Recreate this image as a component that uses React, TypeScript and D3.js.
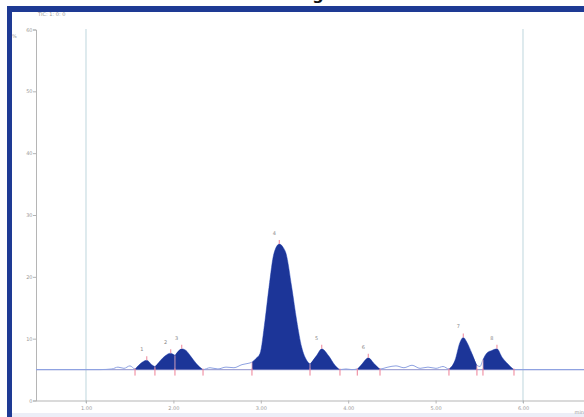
import React, { useEffect, useRef } from "react";
import * as d3 from "d3";

// signal trace (minutes, %)
const times = [
  0.428, 1.16, 1.297, 1.366, 1.435, 1.503, 1.561, 1.618, 1.695, 1.752, 1.789,
  1.847, 1.904, 1.969, 2.018, 2.095, 2.144, 2.19, 2.267, 2.339, 2.419, 2.51,
  2.602, 2.693, 2.785, 2.854, 2.899, 2.945, 2.991, 3.048, 3.094, 3.151, 3.212,
  3.254, 3.288, 3.354, 3.411, 3.468, 3.525, 3.563, 3.64, 3.697, 3.772, 3.849,
  3.906, 3.975, 4.043, 4.104, 4.158, 4.23, 4.295, 4.364, 4.455, 4.547, 4.638,
  4.73, 4.822, 4.913, 5.005, 5.085, 5.153, 5.222, 5.279, 5.317, 5.359, 5.416,
  5.473, 5.508, 5.542, 5.588, 5.645, 5.702, 5.76, 5.828, 5.897, 6.069, 6.698,
];
const signal = [
  5.0, 5.0, 5.1, 5.4, 5.2, 5.6, 5.1, 5.9, 6.5, 5.8, 5.5,
  6.4, 7.2, 7.65, 7.3, 8.35, 8.1, 7.3, 5.9, 5.0, 5.3, 5.1,
  5.4, 5.3, 5.8, 6.0, 6.2, 6.8, 7.6, 12.9, 18.3, 23.8, 25.3,
  24.8, 23.8, 18.3, 12.9, 8.6, 6.5, 5.9, 7.3, 8.35, 7.3, 5.7,
  5.0, 5.1, 5.0, 5.1, 5.9, 6.9, 6.0, 5.1, 5.4, 5.6, 5.3,
  5.7, 5.2, 5.4, 5.2, 5.5, 5.1, 6.5, 9.4, 10.2, 9.4, 7.6,
  5.7, 5.5, 6.6, 7.7, 8.1, 8.35, 7.0, 5.9, 5.0, 5.0, 5.0,
];
const baselineValue = 5;

// integrated peaks
const peakStarts = [1.561, 1.789, 2.018, 2.899, 3.563, 4.104, 5.153, 5.542];
const peakEnds = [1.789, 2.018, 2.339, 3.563, 3.906, 4.364, 5.473, 5.897];
const peakApex = [1.695, 1.969, 2.095, 3.212, 3.697, 4.23, 5.317, 5.702];
const peakLabels = ["1", "2", "3", "4", "5", "6", "7", "8"];

const xTicks = [1, 2, 3, 4, 5, 6];
const xTickLabels = ["1.00", "2.00", "3.00", "4.00", "5.00", "6.00"];
const yTicks = [0, 10, 20, 30, 40, 50, 60];
const markerTimes = [1, 6];

const W = 584;
const H = 417;

const Chromatogram = () => {
  const svgRef = useRef(null);

  useEffect(() => {
    const svg = d3.select(svgRef.current);
    svg.selectAll("*").remove();

    const x = d3.scaleLinear().domain([0.428, 6.698]).range([36, 584]);
    const y = d3.scaleLinear().domain([0, 60]).range([400.5, 29.5]);

    const pts = times.map((t, i) => ({ t, v: signal[i] }));

    // frame
    svg.append("rect").attr("width", W).attr("height", H).attr("fill", "#fff");
    svg.append("rect").attr("x", 7).attr("y", 6).attr("width", W - 7).attr("height", 6).attr("fill", "#1e3a94");
    svg.append("rect").attr("x", 7).attr("y", 6).attr("width", 5).attr("height", H - 6).attr("fill", "#1e3a94");
    svg.append("rect").attr("x", 12).attr("y", 413).attr("width", W - 12).attr("height", 4).attr("fill", "#eceef7");

    // cut off title
    svg.append("text")
      .attr("x", 224).attr("y", 0)
      .attr("font-family", "DejaVu Sans").attr("font-weight", "bold")
      .attr("font-size", 16).attr("fill", "#111")
      .text("Chromatogram");

    svg.append("text").attr("x", 38).attr("y", 16)
      .attr("font-family", "DejaVu Sans").attr("font-size", 5).attr("fill", "#999")
      .text("TIC: 1: 0: 0");
    svg.append("text").attr("x", 12).attr("y", 38)
      .attr("font-family", "DejaVu Sans").attr("font-size", 5).attr("fill", "#999")
      .text("%");

    // time markers
    svg.selectAll(".marker")
      .data(markerTimes)
      .enter()
      .append("line")
      .attr("x1", d => x(d)).attr("x2", d => x(d))
      .attr("y1", 29).attr("y2", 403)
      .attr("stroke", "#c9dde3").attr("stroke-width", 1.2);

    // axes
    const yAxis = svg.append("g")
      .attr("transform", "translate(36,0)")
      .call(d3.axisLeft(y).tickValues(yTicks).tickSize(3).tickFormat(d3.format("d")));
    const xAxis = svg.append("g")
      .attr("transform", `translate(0,${y(0)})`)
      .call(d3.axisBottom(x).tickValues(xTicks).tickSize(3)
        .tickFormat((d, i) => xTickLabels[i]));
    [yAxis, xAxis].forEach(g => {
      g.select(".domain").attr("stroke", "#b5b5b5");
      g.selectAll(".tick line").attr("stroke", "#b5b5b5");
      g.selectAll(".tick text")
        .attr("fill", "#9a9a9a").attr("font-size", 5).attr("font-family", "DejaVu Sans");
    });
    xAxis.select(".domain").attr("d", `M36,0.5H584`);
    xAxis.selectAll(".tick text").attr("y", 6);
    yAxis.selectAll(".tick text").attr("x", -3.5);

    svg.append("text").attr("x", 584).attr("y", 414).attr("text-anchor", "end")
      .attr("font-family", "DejaVu Sans").attr("font-size", 5).attr("fill", "#999")
      .text("min");

    // baseline
    svg.append("line")
      .attr("x1", 36).attr("x2", 584)
      .attr("y1", y(baselineValue)).attr("y2", y(baselineValue))
      .attr("stroke", "#a4a6d6").attr("stroke-width", 1.2);

    // trace
    const line = d3.line().x(d => x(d.t)).y(d => y(d.v)).curve(d3.curveMonotoneX);
    svg.append("path")
      .attr("d", line(pts))
      .attr("fill", "none")
      .attr("stroke", "#8ea2e2")
      .attr("stroke-width", 1);

    // peak fills
    const area = d3.area()
      .x(d => x(d.t))
      .y0(y(baselineValue))
      .y1(d => y(d.v))
      .curve(d3.curveMonotoneX);
    peakStarts.forEach((s, i) => {
      const seg = pts.filter(p => p.t >= s && p.t <= peakEnds[i]);
      svg.append("path").attr("d", area(seg)).attr("fill", "#1c3598");
    });

    // drop lines and integration markers
    const bounds = Array.from(new Set(peakStarts.concat(peakEnds)));
    bounds.forEach(b => {
      const p = pts.find(q => q.t === b);
      svg.append("line")
        .attr("x1", x(b)).attr("x2", x(b))
        .attr("y1", y(baselineValue)).attr("y2", y(p ? p.v : baselineValue))
        .attr("stroke", "#f3b5c4").attr("stroke-width", 0.8);
      svg.append("line")
        .attr("x1", x(b)).attr("x2", x(b))
        .attr("y1", y(baselineValue) - 1).attr("y2", y(baselineValue) + 6)
        .attr("stroke", "#ee7f95").attr("stroke-width", 1);
    });

    // apex ticks and labels
    peakApex.forEach((a, i) => {
      const p = pts.find(q => q.t === a);
      const py = y(p.v);
      svg.append("line")
        .attr("x1", x(a)).attr("x2", x(a))
        .attr("y1", py).attr("y2", py - 4)
        .attr("stroke", "#f19aab").attr("stroke-width", 1.2);
      svg.append("text")
        .attr("x", x(a) - 5).attr("y", py - 9)
        .attr("text-anchor", "middle")
        .attr("font-family", "DejaVu Sans").attr("font-size", 5).attr("fill", "#888")
        .text(peakLabels[i]);
    });
  }, []);

  return (
    <svg
      ref={svgRef}
      width={W}
      height={H}
      style={{ position: "absolute", left: 0, top: 0, display: "block" }}
    ></svg>
  );
};

export default function App() {
  return <Chromatogram />;
}
